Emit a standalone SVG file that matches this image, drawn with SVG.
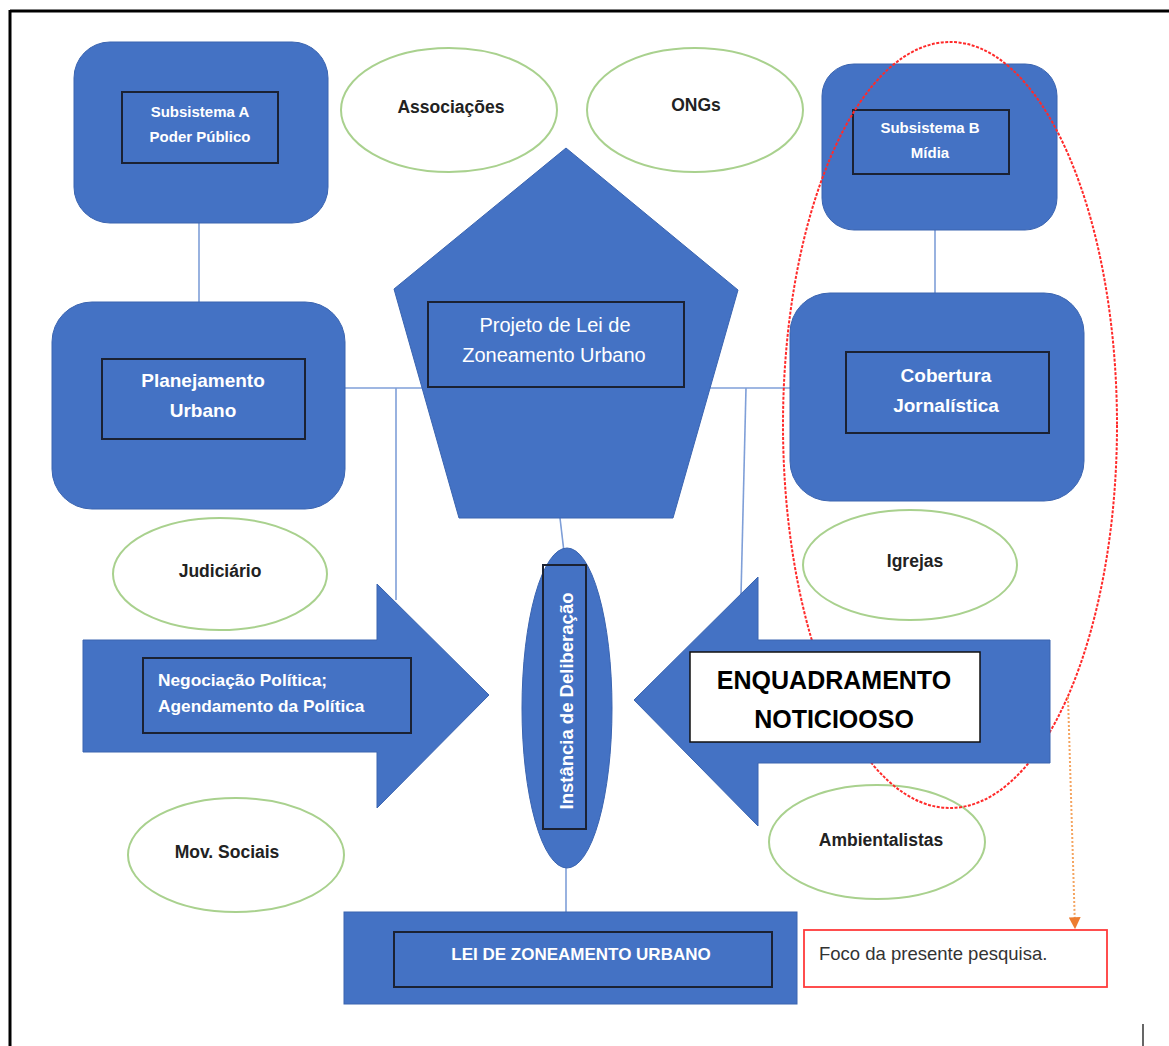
<svg xmlns="http://www.w3.org/2000/svg" width="1169" height="1046" viewBox="0 0 1169 1046">
<defs>
<style>
.blue{fill:#4472C4;stroke:#3A64B0;stroke-width:1}
.inner{fill:none;stroke:#1B2233;stroke-width:2}
.wt{fill:#FFFFFF;font-family:"Liberation Sans",Arial,sans-serif;font-weight:bold;text-anchor:middle}
.wn{fill:#FFFFFF;font-family:"Liberation Sans",Arial,sans-serif;font-weight:normal;text-anchor:middle}
.green{fill:#FFFFFF;stroke:#A9D18E;stroke-width:2}
.gt{fill:#222222;font-family:"Liberation Sans",Arial,sans-serif;font-weight:bold;font-size:17.5px;text-anchor:middle}
.conn{stroke:#7F9FD8;stroke-width:1.6;fill:none}
</style>
<marker id="oarrow" viewBox="0 0 10 10" refX="9" refY="5" markerWidth="12" markerHeight="12" markerUnits="userSpaceOnUse" orient="auto">
<path d="M0,0 L10,5 L0,10 Z" fill="#ED7D31"/>
</marker>
</defs>
<rect x="0" y="0" width="1169" height="1046" fill="#FFFFFF"/>
<g id="frame">
<line x1="10" y1="11" x2="1169" y2="11" stroke="#000" stroke-width="3"/>
<line x1="10" y1="10" x2="10" y2="1046" stroke="#000" stroke-width="3"/>
<line x1="1143" y1="1024" x2="1143" y2="1046" stroke="#000" stroke-width="1.2"/>
</g>
<g id="connectors">
<line class="conn" x1="199" y1="223" x2="199" y2="302"/>
<line class="conn" x1="935" y1="230" x2="935" y2="293"/>
<line class="conn" x1="345" y1="388" x2="430" y2="388"/>
<line class="conn" x1="396" y1="388" x2="396" y2="600"/>
<line class="conn" x1="684" y1="388" x2="790" y2="388"/>
<line class="conn" x1="746" y1="388" x2="741" y2="595"/>
<line class="conn" x1="560" y1="518" x2="564" y2="552"/>
<line class="conn" x1="566" y1="866" x2="566" y2="912"/>
</g>
<g id="subsistema-a">
<rect class="blue" x="74" y="42" width="254" height="181" rx="36"/>
<rect class="inner" x="122" y="92" width="156" height="71"/>
<text class="wt" font-size="15" x="200" y="117">Subsistema A</text>
<text class="wt" font-size="15" x="200" y="142">Poder Público</text>
</g>
<g id="planejamento">
<rect class="blue" x="52" y="302" width="293" height="207" rx="40"/>
<rect class="inner" x="102" y="359" width="203" height="80"/>
<text class="wt" font-size="19" x="203" y="387">Planejamento</text>
<text class="wt" font-size="19" x="203" y="417">Urbano</text>
</g>
<g id="subsistema-b">
<rect class="blue" x="822" y="64" width="235" height="166" rx="32"/>
<rect class="inner" x="853" y="110" width="156" height="64"/>
<text class="wt" font-size="15" x="930" y="133">Subsistema B</text>
<text class="wt" font-size="15" x="930" y="158">Mídia</text>
</g>
<g id="cobertura">
<rect class="blue" x="790" y="293" width="294" height="208" rx="40"/>
<rect class="inner" x="846" y="352" width="203" height="81"/>
<text class="wt" font-size="19" x="946" y="382">Cobertura</text>
<text class="wt" font-size="19" x="946" y="412">Jornalística</text>
</g>
<g id="projeto">
<polygon class="blue" points="566,148 738,290 673,518 459,518 394,289"/>
<rect class="inner" x="428" y="302" width="256" height="85"/>
<text class="wn" font-size="20" x="555" y="332">Projeto de Lei de</text>
<text class="wn" font-size="20" x="554" y="362">Zoneamento Urbano</text>
</g>
<g id="associacoes">
<ellipse class="green" cx="449" cy="110" rx="108" ry="62"/>
<text class="gt" x="451" y="113">Associações</text>
</g>
<g id="ongs">
<ellipse class="green" cx="695" cy="110" rx="108" ry="62"/>
<text class="gt" x="696" y="111">ONGs</text>
</g>
<g id="judiciario">
<ellipse class="green" cx="220" cy="574" rx="107" ry="56"/>
<text class="gt" x="220" y="577">Judiciário</text>
</g>
<g id="igrejas">
<ellipse class="green" cx="910" cy="565" rx="107" ry="55"/>
<text class="gt" x="915" y="567">Igrejas</text>
</g>
<g id="mov-sociais">
<ellipse class="green" cx="236" cy="855" rx="108" ry="57"/>
<text class="gt" x="227" y="858">Mov. Sociais</text>
</g>
<g id="ambientalistas">
<ellipse class="green" cx="877" cy="842" rx="108" ry="57"/>
<text class="gt" x="881" y="846">Ambientalistas</text>
</g>
<g id="instancia">
<ellipse class="blue" cx="567" cy="708" rx="45" ry="160"/>
<rect class="inner" x="543" y="565" width="43" height="264"/>
<text class="wt" font-size="18.5" transform="translate(573,701) rotate(-90)">Instância de Deliberação</text>
</g>
<g id="negociacao">
<polygon class="blue" points="83,640 377,640 377,584 489,695 377,808 377,752 83,752"/>
<rect class="inner" x="143" y="658" width="268" height="75"/>
<text class="wt" font-size="17.3" x="158" y="686" style="text-anchor:start">Negociação Política;</text>
<text class="wt" font-size="17.3" x="158" y="712" style="text-anchor:start">Agendamento da Política</text>
</g>
<g id="foco-ellipse">
<ellipse cx="950" cy="425" rx="167" ry="383" fill="none" stroke="#FF2A2A" stroke-width="2" stroke-dasharray="3,1.5"/>
</g>
<g id="enquadramento">
<polygon class="blue" points="1050,640 758,640 758,577 634,700 758,826 758,763 1050,763"/>
<rect x="690" y="652" width="290" height="90" fill="#FFFFFF" stroke="#111" stroke-width="1.5"/>
<text x="834" y="689" font-family="Liberation Sans,Arial,sans-serif" font-weight="bold" font-size="25" fill="#000" text-anchor="middle">ENQUADRAMENTO</text>
<text x="834" y="728" font-family="Liberation Sans,Arial,sans-serif" font-weight="bold" font-size="25" fill="#000" text-anchor="middle">NOTICIOOSO</text>
</g>
<g id="lei">
<rect class="blue" x="344" y="912" width="453" height="92"/>
<rect class="inner" x="394" y="932" width="378" height="55"/>
<text class="wt" font-size="17" x="581" y="960">LEI DE ZONEAMENTO URBANO</text>
</g>
<g id="foco">
<rect x="804" y="930" width="303" height="57" fill="#FFFFFF" stroke="#FF3B3B" stroke-width="1.8"/>
<text x="819" y="960" font-family="Liberation Sans,Arial,sans-serif" font-size="18.5" fill="#333">Foco da presente pesquisa.</text>
</g>
<g id="foco-arrow">
<path d="M1068,697 L1075,928" fill="none" stroke="#F4A460" stroke-width="2" stroke-dasharray="2,2" marker-end="url(#oarrow)"/>
</g>
</svg>
